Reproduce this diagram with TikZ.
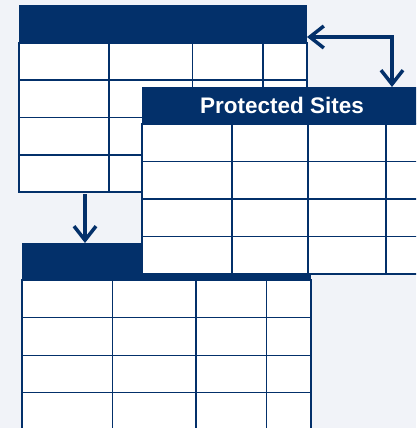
\documentclass[tikz,border=0pt]{standalone}
\usepackage{fontspec}
\setmainfont{Liberation Sans}
\usetikzlibrary{arrows.meta}
\definecolor{navy}{HTML}{03306A}
\definecolor{bg}{HTML}{F1F3F8}
\tikzset{
  hdr/.style={fill=navy, draw=none, inner sep=0pt, outer sep=0pt, anchor=north west, text=white},
  body/.style={fill=white, draw=navy, line width=1.2pt, inner sep=0pt, outer sep=0pt, anchor=north west},
  grid/.style={draw=navy, line width=1.2pt},
  barb/.tip={Straight Barb[length=14pt, width=22pt, line width=3.5pt]},
  conn/.style={draw=navy, line width=3.5pt, -barb},
  conn2/.style={draw=navy, line width=3.5pt, barb-barb},
}
\begin{document}
\begin{tikzpicture}[x=1pt, y=-1pt]
\useasboundingbox (0,0) rectangle (416,428);
\clip (0,0) rectangle (416,428);
\fill[bg] (0,0) rectangle (416,428);

% Table 1 (top left)
\node[body, minimum width=288pt, minimum height=149pt] (b1) at (19,43) {};
\node[hdr, minimum width=288pt, minimum height=38pt] (h1) at (19,5) {};
\foreach \x in {109,192.5,263} \draw[grid] (\x,43) -- (\x,192);
\foreach \y in {80,117.5,155} \draw[grid] (19,\y) -- (307,\y);

% Table 3 (bottom)
\node[body, minimum width=289pt, minimum height=160pt] (b3) at (22,280) {};
\node[hdr, minimum width=289pt, minimum height=37pt] (h3) at (22,243) {};
\foreach \x in {112.3,196,266.3} \draw[grid] (\x,280) -- (\x,440);
\foreach \y in {317.7,355.3,392.7} \draw[grid] (22,\y) -- (311,\y);

% Table 2 (Protected Sites, on top)
\node[body, minimum width=280pt, minimum height=150pt] (b2) at (142,124) {};
\node[hdr, minimum width=280pt, minimum height=37pt, font=\fontsize{22.5}{27}\selectfont\bfseries] (h2) at (142,87) {Protected Sites};
\foreach \x in {232,308,386} \draw[grid] (\x,124) -- (\x,274);
\foreach \y in {161.5,199,236.3} \draw[grid] (142,\y) -- (422,\y);

% Connectors
\coordinate (corner) at (392,37);
\draw[conn2] (corner -| h1.east) -- (corner) -- (corner |- h2.north);
\coordinate (down) at (85,194);
\draw[conn] (down) -- (down |- h3.north);
\end{tikzpicture}
\end{document}
